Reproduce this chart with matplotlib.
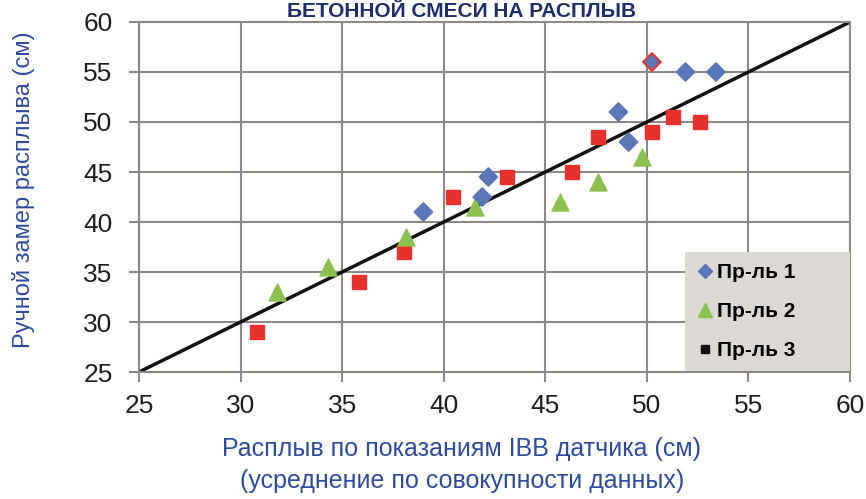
import matplotlib.pyplot as plt
from matplotlib.lines import Line2D

plt.rcParams["font.family"] = ["Liberation Sans", "DejaVu Sans"]

# Пр-ль 1
x1 = [39.0, 41.9, 42.2, 48.6, 49.1, 50.25, 51.9, 53.4]
y1 = [41.0, 42.5, 44.5, 51.0, 48.0, 56.0, 55.0, 55.0]
# Пр-ль 2
x2 = [31.8, 34.3, 38.15, 41.55, 45.7, 47.6, 49.75]
y2 = [33.0, 35.5, 38.5, 41.5, 42.0, 44.0, 46.5]
# Пр-ль 3
x3 = [30.8, 35.85, 38.05, 40.45, 43.1, 46.3, 47.6, 50.25, 51.3, 52.6]
y3 = [29.0, 34.0, 37.0, 42.5, 44.5, 45.0, 48.5, 49.0, 50.5, 50.0]

ticks = [25, 30, 35, 40, 45, 50, 55, 60]
blue, green, red = "#5b77b7", "#8dc04f", "#e8312f"
gridc = "#8c8884"
labc = "#2f4a9e"

fig = plt.figure(figsize=(8.66, 4.99), dpi=100)
ax = fig.add_axes([139 / 866, 1 - 372 / 499, 711 / 866, 350 / 499])

ax.plot([25, 60], [25, 60], color="#111111", lw=2.5, zorder=2)
ax.scatter(x3, y3, marker="s", s=115, color=red, zorder=3)
ax.scatter(x2, y2, marker="^", s=150, color=green, zorder=3)
edge1 = [red if (a, b) == (50.25, 56.0) else blue for a, b in zip(x1, y1)]
ax.scatter(x1, y1, marker="D", s=80, color=blue, edgecolors=edge1, linewidths=1.5, zorder=4)

ax.set_xlim(25, 60)
ax.set_ylim(25, 60)
ax.set_xticks(ticks)
ax.set_yticks(ticks)
ax.grid(True, color=gridc, lw=1.5)
ax.set_axisbelow(True)
for s in ax.spines.values():
    s.set_color(gridc)
    s.set_linewidth(1.5)
ax.tick_params(length=7, width=1.5, color=gridc, labelsize=19, labelcolor="#1e1e1e")
ax.tick_params(axis="x", pad=9)
ax.tick_params(axis="y", pad=12)

ax.set_xlabel("Расплыв по показаниям IBB датчика (см)\n(усреднение по совокупности данных)",
              color=labc, fontsize=18, linespacing=1.45, va="center")
ax.xaxis.set_label_coords(0.454, -0.266)
ax.set_ylabel("Ручной замер расплыва (см)", color=labc, fontsize=17, va="center")
ax.yaxis.set_label_coords(-0.162, 0.52)

fig.text(462 / 866, 1 - 17 / 499, "БЕТОННОЙ СМЕСИ НА РАСПЛЫВ", ha="center", va="baseline",
         color="#1f2d6b", fontsize=15, fontweight="bold")

handles = [
    Line2D([], [], marker="D", ls="none", color=blue, ms=7),
    Line2D([], [], marker="^", ls="none", color=green, ms=10),
    Line2D([], [], marker="s", ls="none", color="#111111", ms=6),
]
leg = ax.legend(handles, ["Пр-ль 1", "Пр-ль 2", "Пр-ль 3"], loc="upper left",
                bbox_to_anchor=(0.768, 0.343, 0.232, 0.0), mode="expand",
                prop={"weight": "bold", "size": 15},
                frameon=True, fancybox=False, handlelength=0.8, handletextpad=0.2,
                labelspacing=0.95, borderaxespad=0, borderpad=0.55)
leg.get_frame().set_facecolor("#dcd9d4")
leg.get_frame().set_edgecolor("none")
leg.get_frame().set_alpha(1)

fig.savefig("out.png", dpi=100)
